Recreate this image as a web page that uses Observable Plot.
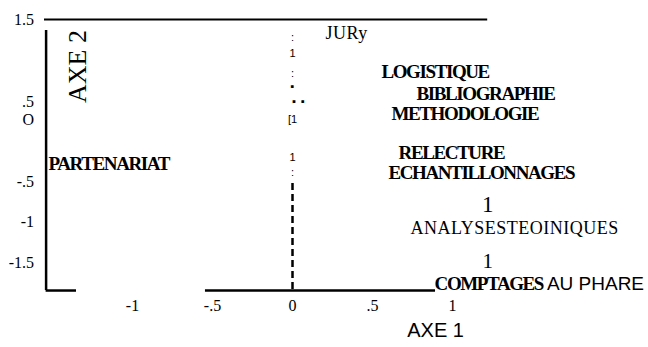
<!DOCTYPE html>
<html><head><meta charset="utf-8">
<script src="https://cdn.jsdelivr.net/npm/d3@7"></script>
<script src="https://cdn.jsdelivr.net/npm/@observablehq/plot@0.6"></script>
<style>body{margin:0;background:#fff}</style>
</head><body><div id="chart"></div>
<script>
// Category labels and their coordinates (axe 1, axe 2)
const boldLabels = ["LOGISTIQUE","BIBLIOGRAPHIE","METHODOLOGIE","RELECTURE","ECHANTILLONNAGES","COMPTAGES","PARTENARIAT"];
const boldX = [0.556, 0.775, 0.619, 0.663, 0.600, 0.888, -1.525];
const boldY = [0.858, 0.586, 0.340, -0.142, -0.389, -1.760, -0.278];
const plainLabels = ["JURy","ANALYSESTEOINIQUES"];
const plainX = [0.206, 0.738];
const plainY = [1.327, -1.080];
const sansLabels = ["AU PHARE"];
const sansX = [1.59];
const sansY = [-1.760];
const markerLabels = ["1","1"];
const markerX = [1.22, 1.22];
const markerY = [-0.79, -1.49];
const markerSize = [23, 21];
// glyphs along axis x = 0
const axisGlyphs = [":","1",":","▪","▪","▪","[1","1",":"];
const glyphX = [0, 0, 0, 0, 0.01, 0.065, 0, 0, 0];
const glyphY = [1.278, 1.08, 0.833, 0.673, 0.488, 0.488, 0.265, -0.204, -0.389];
// ticks
const xTicks = [-1, -0.5, 0, 0.5, 1];
const xTickLabels = ["-1","-.5","0",".5","1"];
const yTickPos = [1.5, 0.48, 0.26, -0.5, -1, -1.5];
const yTickLabels = ["1.5",".5","O","-.5","-1","-1.5"];
// frame extents
const xLeft = -1.54, xRight = 1.22, yBottom = -1.846, yTopFrame = 1.364;
const bottomSegStart = [-1.54, -0.544];
const bottomSegEnd = [-1.35, 0.894];

const serif = "'Liberation Serif', 'Times New Roman', serif";
const sans = "'Liberation Sans', Arial, sans-serif";
const mk = (labels, xs, ys) => labels.map((t, i) => ({t, x: xs[i], y: ys[i]}));

const chart = Plot.plot({
  width: 648, height: 347,
  margin: 0,
  x: {domain: [-1, 1], range: [132, 452], axis: null},
  y: {domain: [-1.5, 1.5], range: [262, 19], axis: null},
  style: {background: "#fff", overflow: "visible"},
  marks: [
    // frame lines
    Plot.ruleY([1.5], {x1: xLeft - 0.01, x2: xRight, stroke: "#000", strokeWidth: 2}),
    Plot.ruleX([xLeft], {y1: yTopFrame, y2: yBottom, stroke: "#000", strokeWidth: 2.5}),
    Plot.ruleY(bottomSegStart.map((s, i) => ({s, e: bottomSegEnd[i]})), {x1: "s", x2: "e", y: yBottom, stroke: "#000", strokeWidth: 2.5}),
    // dashed vertical line at x = 0
    Plot.ruleX([0], {y1: -0.525, y2: yBottom, stroke: "#000", strokeWidth: 2.5, strokeDasharray: "7,4"}),
    Plot.text(mk(axisGlyphs, glyphX, glyphY), {x: "x", y: "y", text: "t", fontFamily: sans, fontSize: 11, fill: "#000"}),
    // tick labels
    Plot.text(xTicks.map((v, i) => ({v, t: xTickLabels[i]})), {x: "v", y: yBottom, dy: 15, text: "t", fontFamily: serif, fontSize: 16, fill: "#000"}),
    Plot.text(yTickPos.map((v, i) => ({v, t: yTickLabels[i]})), {x: xLeft, y: "v", dx: -12, text: "t", textAnchor: "end", fontFamily: serif, fontSize: 16, fill: "#000"}),
    // category labels
    Plot.text(mk(boldLabels, boldX, boldY), {x: "x", y: "y", text: "t", textAnchor: "start", fontFamily: serif, fontWeight: "bold", fontSize: 19, fill: "#000"}),
    Plot.text(mk(plainLabels, plainX, plainY), {x: "x", y: "y", text: "t", textAnchor: "start", fontFamily: serif, fontSize: 18, fill: "#000"}),
    Plot.text(mk(sansLabels, sansX, sansY), {x: "x", y: "y", text: "t", textAnchor: "start", fontFamily: sans, fontSize: 19, fill: "#000"}),
    Plot.text(markerLabels.map((t, i) => ({t, x: markerX[i], y: markerY[i], s: markerSize[i]})), {x: "x", y: "y", text: "t", fontSize: "s", fontFamily: serif, fill: "#000"}),
    // axis titles
    Plot.text(["AXE 2"], {x: -1.344, y: 0.92, text: d => d, rotate: -90, fontFamily: serif, fontSize: 26, fill: "#000"}),
    Plot.text(["AXE 1"], {x: 0.894, y: -2.34, text: d => d, fontFamily: sans, fontSize: 20, fill: "#000"})
  ]
});
d3.select(chart).selectAll("g[font-weight=bold] text").attr("letter-spacing", -1.4);
d3.select(chart).selectAll("g[font-size='18'] text").attr("letter-spacing", 0.5);
document.getElementById("chart").appendChild(chart);
</script>
</body></html>
